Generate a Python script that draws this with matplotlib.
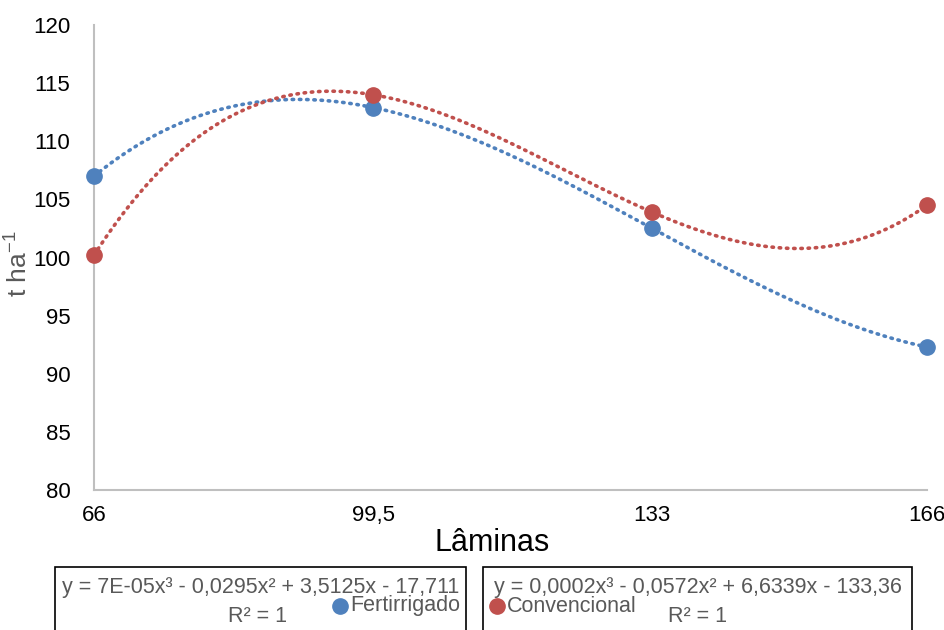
import numpy as np
import matplotlib
matplotlib.use("Agg")
import matplotlib.pyplot as plt
from matplotlib.patches import Rectangle

# ---- data ----
laminas = [66, 99.5, 133, 166]
tick_labels = ["66", "99,5", "133", "166"]
fertirrigado = [107.0, 112.9, 102.5, 92.3]
convencional = [100.2, 114.0, 103.9, 104.5]
eq_fert = "y = 7E-05x³ - 0,0295x² + 3,5125x - 17,711"
eq_conv = "y = 0,0002x³ - 0,0572x² + 6,6339x - 133,36"
r2_text = "R² = 1"
series_names = ["Fertirrigado", "Convencional"]

blue = "#4F81BD"
red = "#C0504D"
gray_txt = "#595959"

plt.rcParams['font.family'] = ['Liberation Sans', 'DejaVu Sans']
plt.rcParams['mathtext.default'] = 'regular'

fig = plt.figure(figsize=(9.44, 6.30), dpi=100)
ax = fig.add_axes([94/944, 1-490/630, (927-94)/944, (490-25)/630])

xs = np.linspace(min(laminas), max(laminas), 400)
for vals, col in [(fertirrigado, blue), (convencional, red)]:
    coef = np.polyfit(laminas, vals, 3)
    ax.plot(xs, np.polyval(coef, xs), color=col, lw=2.6,
            linestyle=(0, (0.4, 1.6)), dash_capstyle='round', zorder=2, clip_on=False)
    ax.plot(laminas, vals, 'o', color=col, ms=11, zorder=3, clip_on=False)

ax.set_xlim(66, 166)
ax.set_ylim(80, 120)
ax.set_xticks(laminas)
ax.set_xticklabels(tick_labels)
ax.set_yticks(np.arange(80, 121, 5))
ax.tick_params(axis='both', length=0, labelsize=16)
ax.tick_params(axis='x', pad=11)
ax.tick_params(axis='y', pad=17)
for s in ['top', 'right']:
    ax.spines[s].set_visible(False)
for s in ['left', 'bottom']:
    ax.spines[s].set_color('#BFBFBF')
    ax.spines[s].set_linewidth(1.5)

fig.text(492/944, 1-543/630, "Lâminas", ha='center', va='center', fontsize=22, color='black')
fig.text(19/944, 1-264/630, r"t ha$^{-1}$", ha='center', va='center', rotation=90,
         fontsize=19, color=gray_txt)

# trendline label boxes
for (x0, x1), eq, r2x in [((55, 466), eq_fert, 258), ((483, 912), eq_conv, 697)]:
    fig.patches.append(Rectangle((x0/944, -0.05), (x1-x0)/944, 0.05 + (630-567)/630,
                                 transform=fig.transFigure, fill=False,
                                 edgecolor='black', lw=1.2))
    fig.text((x0+x1)/2/944, 1-587/630, eq, ha='center', va='center', fontsize=15.5,
             color=gray_txt)
    fig.text(r2x/944, 1-616/630, r2_text, ha='center', va='center', fontsize=15.5,
             color=gray_txt)

# legend entries
for mx, col, name in [(340, blue, series_names[0]), (497, red, series_names[1])]:
    fig.lines.append(plt.Line2D([mx/944], [1-606/630], marker='o', color=col, ms=11,
                                transform=fig.transFigure))
    fig.text((mx+10)/944, 1-606/630, name, ha='left', va='center', fontsize=15.5,
             color=gray_txt)

fig.savefig("out.png", dpi=100)
